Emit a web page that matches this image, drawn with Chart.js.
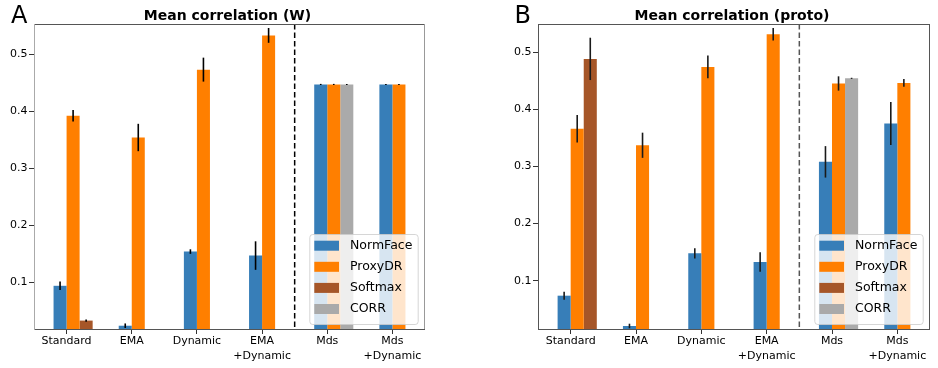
<!DOCTYPE html>
<html>
<head>
<meta charset="utf-8">
<script src="https://cdn.jsdelivr.net/npm/chart.js@4"></script>
<style>
  body { margin: 0; background: #fff; }
  #wrap { position: relative; width: 938px; height: 368px; }
  canvas { position: absolute; top: 0; }
  #chartW { left: 0; }
  #chartP { left: 469px; }
</style>
</head>
<body>
<div id="wrap">
  <canvas id="chartW" width="469" height="368"></canvas>
  <canvas id="chartP" width="469" height="368"></canvas>
</div>
<script>
// categories and tick labels
const groups = ['Standard', 'EMA', 'Dynamic', ['EMA', '+Dynamic'], 'Mds', ['Mds', '+Dynamic']];
const yTicks = [0.1, 0.2, 0.3, 0.4, 0.5];
const methods = ['NormFace', 'ProxyDR', 'Softmax', 'CORR'];
const colors = ['#377eb8', '#ff7f00', '#a65628', '#aaaaaa'];

// (W) panel
const normW = [0.094, 0.024, 0.154, 0.147, 0.447, 0.447];
const normWErr = [0.0075, 0.004, 0.004, 0.025, 0.001, 0.001];
const proxyW = [0.392, 0.354, 0.473, 0.533, 0.447, 0.447];
const proxyWErr = [0.010, 0.024, 0.021, 0.013, 0.001, 0.001];
const softW = [0.033, null, null, null, null, null];
const softWErr = [0.002, 0, 0, 0, 0, 0];
const corrW = [null, null, null, null, 0.447, null];
const corrWErr = [0, 0, 0, 0, 0.001, 0];

// (proto) panel
const normP = [0.074, 0.021, 0.148, 0.133, 0.308, 0.375];
const normPErr = [0.007, 0.004, 0.009, 0.017, 0.0275, 0.0375];
const proxyP = [0.366, 0.337, 0.474, 0.531, 0.445, 0.446];
const proxyPErr = [0.024, 0.022, 0.020, 0.011, 0.0125, 0.0067];
const softP = [0.488, null, null, null, null, null];
const softPErr = [0.037, 0, 0, 0, 0, 0];
const corrP = [null, null, null, null, 0.454, null];
const corrPErr = [0, 0, 0, 0, 0.001, 0];

Chart.defaults.font.family = 'DejaVu Sans';
Chart.defaults.color = '#000';

function makeDatasets(series, errors) {
  // empty first slot so each group is centred between NormFace and ProxyDR
  const sets = [{ label: '', data: groups.map(() => null), stack: 's0', pad: true }];
  const stacks = ['s1', 's2', 's3', 's3'];
  series.forEach((d, i) => {
    sets.push({
      label: methods[i],
      data: d,
      errors: errors[i],
      backgroundColor: colors[i],
      stack: stacks[i]
    });
  });
  return sets;
}

const panelDeco = {
  id: 'panelDeco',
  afterDatasetsDraw(chart, args, o) {
    const { ctx, chartArea: a, scales } = chart;
    ctx.save();

    // separator between the training variants and the Mds groups
    const sx = scales.x.getPixelForValue(3.5);
    ctx.strokeStyle = o.dashColor;
    ctx.lineWidth = 1.5;
    ctx.setLineDash([5.5, 3]);
    ctx.beginPath();
    ctx.moveTo(sx, a.top);
    ctx.lineTo(sx, a.bottom);
    ctx.stroke();
    ctx.setLineDash([]);

    // error bars
    ctx.strokeStyle = o.errColor;
    ctx.lineWidth = 1.6;
    chart.data.datasets.forEach((ds, di) => {
      if (!ds.errors) return;
      const meta = chart.getDatasetMeta(di);
      ds.data.forEach((v, i) => {
        if (v == null || !ds.errors[i]) return;
        const x = meta.data[i].x;
        ctx.beginPath();
        ctx.moveTo(x, scales.y.getPixelForValue(v - ds.errors[i]));
        ctx.lineTo(x, scales.y.getPixelForValue(v + ds.errors[i]));
        ctx.stroke();
      });
    });

    // axes frame
    ctx.lineWidth = 1;
    const edge = (c, x1, y1, x2, y2) => {
      ctx.strokeStyle = c;
      ctx.beginPath();
      ctx.moveTo(x1, y1);
      ctx.lineTo(x2, y2);
      ctx.stroke();
    };
    edge(o.frame[0], a.left, a.top + 0.5, a.right, a.top + 0.5);
    edge(o.frame[1], a.right - 0.5, a.top, a.right - 0.5, a.bottom);
    edge(o.frame[0], a.left, a.bottom - 0.5, a.right, a.bottom - 0.5);
    edge(o.frame[2], a.left + 0.5, a.top, a.left + 0.5, a.bottom);

    // legend
    const bw = 108.4, bh = 90;
    const bx = a.right - 7.3 - bw, by = a.bottom - 6 - bh;
    ctx.fillStyle = 'rgba(255,255,255,0.8)';
    ctx.strokeStyle = 'rgba(204,204,204,0.8)';
    ctx.beginPath();
    ctx.roundRect(bx + 0.5, by + 0.5, bw, bh, 3);
    ctx.fill();
    ctx.stroke();
    ctx.font = '12.5px "DejaVu Sans"';
    ctx.textBaseline = 'middle';
    ctx.textAlign = 'left';
    chart.data.datasets.filter(ds => !ds.pad).forEach((ds, k) => {
      const cy = by + 11.7 + 21.1 * k;
      ctx.fillStyle = ds.backgroundColor;
      ctx.fillRect(bx + 5, cy - 5, 24.7, 10);
      ctx.fillStyle = '#000';
      ctx.fillText(ds.label, bx + 40.7, cy);
    });

    // title and panel letter
    ctx.textBaseline = 'alphabetic';
    ctx.textAlign = 'center';
    ctx.font = 'bold 14px "DejaVu Sans"';
    ctx.fillText(o.title, (a.left + a.right) / 2 - 2, 19.5);
    ctx.textAlign = 'left';
    ctx.font = '24px "DejaVu Sans"';
    ctx.fillText(o.letter, o.letterX, 23.3);

    ctx.restore();
  }
};

function drawPanel(id, series, errors, yMin, yMax, pad, deco) {
  const ctx = document.getElementById(id).getContext('2d');
  return new Chart(ctx, {
    type: 'bar',
    data: { labels: groups, datasets: makeDatasets(series, errors) },
    options: {
      responsive: false,
      animation: false,
      devicePixelRatio: 1,
      categoryPercentage: 0.8,
      barPercentage: 1.0,
      layout: { padding: pad },
      plugins: {
        legend: { display: false },
        tooltip: { enabled: false },
        panelDeco: deco
      },
      scales: {
        x: {
          grid: { offset: false, drawOnChartArea: false, tickLength: 4, color: '#333' },
          border: { display: false },
          ticks: { font: { size: 11, lineHeight: 1.35 }, color: '#000', padding: 0, maxRotation: 0, autoSkip: false },
          afterFit: s => { s.height = 38; }
        },
        y: {
          min: yMin,
          max: yMax,
          afterBuildTicks: s => { s.ticks = yTicks.map(v => ({ value: v })); },
          grid: { drawOnChartArea: false, tickLength: 5, color: '#333' },
          border: { display: false },
          ticks: { font: { size: 11 }, color: '#000', padding: 1.5, callback: v => v.toFixed(1) },
          afterFit: s => { s.width = 34; }
        }
      }
    },
    plugins: [panelDeco]
  });
}

drawPanel('chartW',
  [normW, proxyW, softW, corrW],
  [normWErr, proxyWErr, softWErr, corrWErr],
  0.0165, 0.553,
  { left: 0, right: 44, top: 24, bottom: 0 },
  { title: 'Mean correlation (W)', letter: 'A', letterX: 11, dashColor: '#000', errColor: '#000',
    frame: ['#555', '#999', '#aaa'] });

drawPanel('chartP',
  [normP, proxyP, softP, corrP],
  [normPErr, proxyPErr, softPErr, corrPErr],
  0.014, 0.549,
  { left: 35, right: 8, top: 24, bottom: 0 },
  { title: 'Mean correlation (proto)', letter: 'B', letterX: 45.4, dashColor: '#555', errColor: '#1a1a1a',
    frame: ['#555', '#555', '#555'] });
</script>
</body>
</html>
